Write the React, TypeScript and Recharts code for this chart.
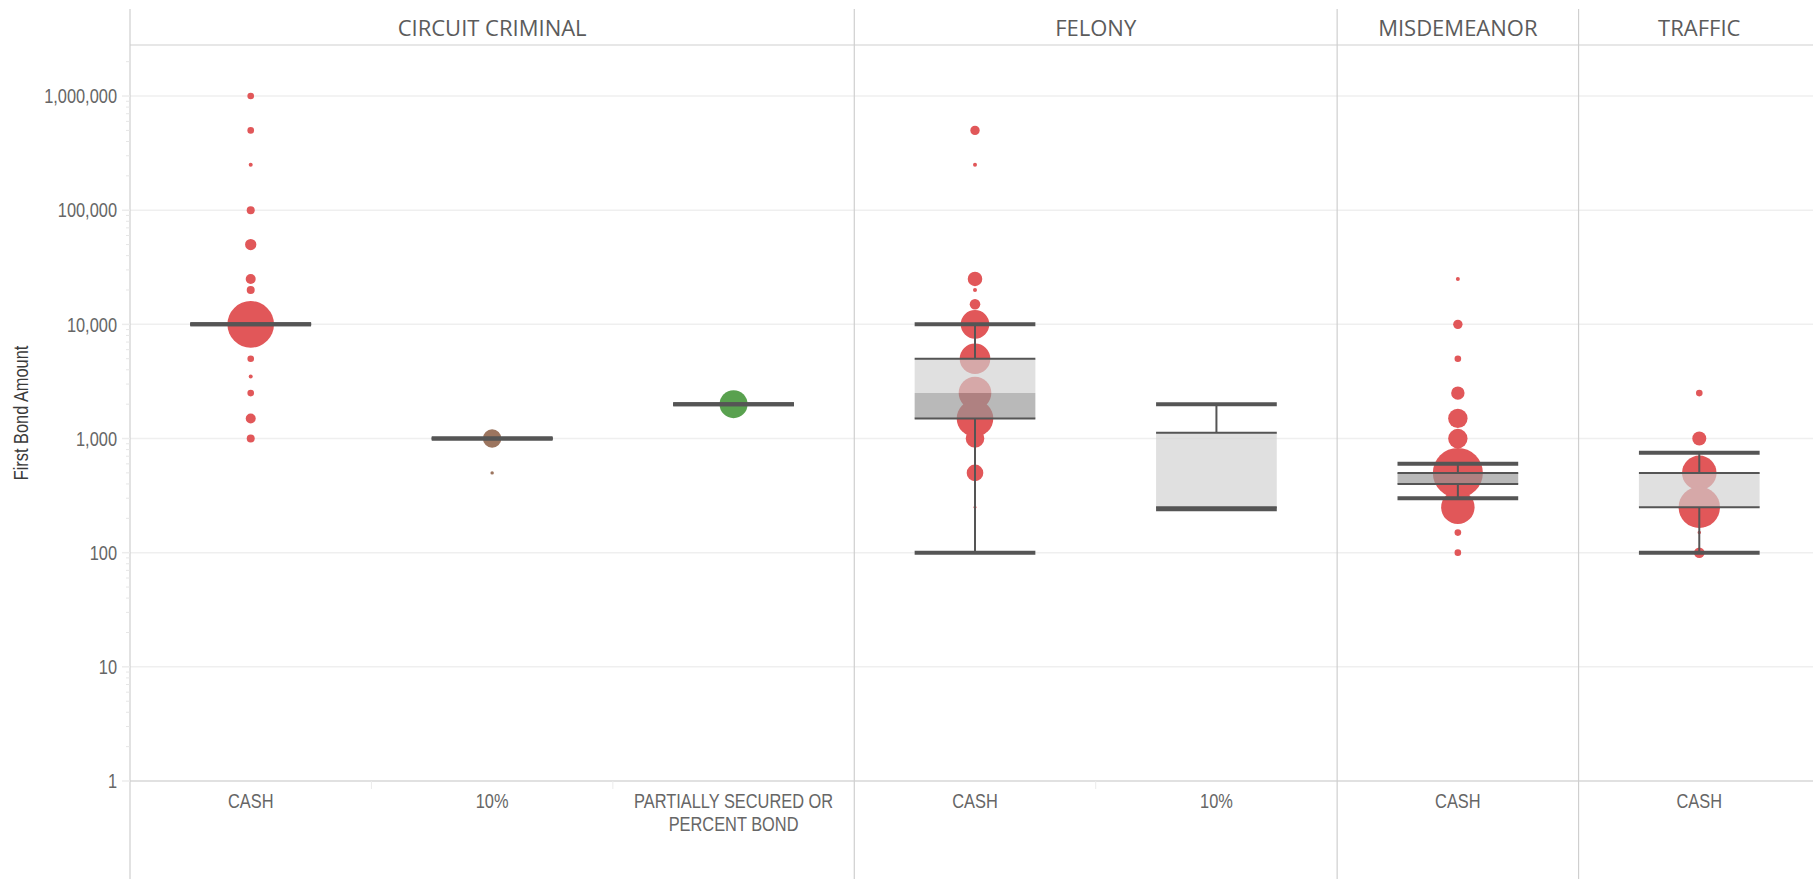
import React from 'react'
import {
  ComposedChart,
  Scatter,
  XAxis,
  YAxis,
  ZAxis,
  ReferenceLine,
  ReferenceArea,
} from 'recharts'

// facets across the top and the bond types inside them
const panelNames = ['CIRCUIT CRIMINAL', 'FELONY', 'MISDEMEANOR', 'TRAFFIC']
const panelSizes = [3, 2, 1, 1]

const categoryLabels = ['CASH', '10%', 'PARTIALLY SECURED OR\nPERCENT BOND', 'CASH', '10%', 'CASH', 'CASH']
const categoryTypes = ['cash', 'ten', 'partial', 'cash', 'ten', 'cash', 'cash']

// [first bond amount, number of cases]
const circuitCash = [
  [1000000, 11], [500000, 11], [250000, 4], [100000, 16], [50000, 32], [25000, 25], [20000, 16],
  [10000, 543], [5000, 11], [3500, 4], [2500, 11], [1500, 25], [1000, 16],
]
const circuitTen = [[1000, 85], [500, 3]]
const circuitPartial = [[2000, 196]]
const felonyCash = [
  [500000, 22], [250000, 4], [25000, 53], [20000, 4], [15000, 28], [10000, 204], [5000, 234],
  [2500, 266], [1500, 335], [1000, 86], [500, 69], [250, 2], [100, 1],
]
const felonyTen = [[240, 2]]
const misdemeanorCash = [
  [25000, 4], [10000, 22], [5000, 11], [2500, 45], [1500, 94], [1000, 94], [500, 625],
  [250, 279], [150, 11], [100, 11],
]
const trafficCash = [[2500, 11], [1000, 49], [500, 299], [250, 428], [150, 3], [100, 28]]

const pointsByCategory = [circuitCash, circuitTen, circuitPartial, felonyCash, felonyTen, misdemeanorCash, trafficCash]

// box plot statistics per category
const whiskerLow = [10000, 1000, 2000, 100, 240, 300, 100]
const quartile1 = [10000, 1000, 2000, 1500, 250, 400, 250]
const medians = [10000, 1000, 2000, 2500, 250, 500, 250]
const quartile3 = [10000, 1000, 2000, 5000, 1125, 500, 500]
const whiskerHigh = [10000, 1000, 2000, 10000, 2000, 600, 750]

const yMajorTicks = [1, 10, 100, 1000, 10000, 100000, 1000000]
const Y_MAX = 2800000

const typeColors: Record<string, string> = { cash: '#e15759', ten: '#9c755f', partial: '#59a14f' }

const FONT = "'Liberation Sans', Arial, sans-serif"
const BOX_HALF = 0.25

const panelEdges: number[] = []
const panelCenters: number[] = []
panelSizes.reduce((start, size) => {
  panelEdges.push(start)
  panelCenters.push(start + size / 2)
  return start + size
}, -0.5)

const yTicks: number[] = []
yMajorTicks.forEach((t) => {
  yTicks.push(t)
  for (let m = 2; m <= 9; m++) if (t * m < Y_MAX) yTicks.push(t * m)
})

const bottomTicks: number[] = []
for (let i = 0; i < categoryLabels.length; i++) bottomTicks.push(i - 0.5, i)

const topTicks = [...panelEdges, ...panelCenters].sort((a, b) => a - b)

const points = pointsByCategory.flatMap((pts, i) =>
  pts.map(([amount, count]) => ({ x: i, amount, count, type: categoryTypes[i] }))
)

// narrow sans (Arial Narrow look) made by squeezing Liberation Sans
function NarrowText({ x, y, anchor = 'middle', fill = '#666', size = 20, rotate = false, dy, children }: any) {
  return (
    <g transform={`translate(${x},${y})${rotate ? ' rotate(-90)' : ''} scale(0.82,1)`}>
      <text x={0} y={0} dy={dy} textAnchor={anchor} fill={fill} fontSize={size} fontFamily={FONT}>
        {children}
      </text>
    </g>
  )
}

function YTick(props: any) {
  const { x, y, payload } = props
  const v = payload.value
  if (yMajorTicks.includes(v)) {
    return (
      <g>
        <line x1={x - 8} x2={x} y1={y} y2={y} stroke="#ececec" strokeWidth={1.5} />
        <NarrowText x={x - 13} y={y} dy="0.36em" anchor="end">
          {v.toLocaleString('en-US')}
        </NarrowText>
      </g>
    )
  }
  return <line x1={x - 4} x2={x} y1={y} y2={y} stroke="#e6e6e6" strokeWidth={1} />
}

function BottomTick(props: any) {
  const { x, y, payload } = props
  const v = payload.value
  if (Number.isInteger(v)) {
    const lines = categoryLabels[v].split('\n')
    return (
      <g>
        {lines.map((l, k) => (
          <NarrowText key={k} x={x} y={y + 27 + k * 23}>
            {l}
          </NarrowText>
        ))}
      </g>
    )
  }
  if (panelEdges.includes(v)) {
    return <line x1={x} x2={x} y1={y} y2={y + 100} stroke="#cfcfcf" strokeWidth={1.2} />
  }
  return <line x1={x} x2={x} y1={y} y2={y + 8} stroke="#ebebeb" strokeWidth={1} />
}

function TopTick(props: any) {
  const { x, y, payload } = props
  const v = payload.value
  const p = panelCenters.indexOf(v)
  if (p >= 0) {
    return (
      <text x={x} y={y - 9} textAnchor="middle" fill="#5b5b5b" fontSize={22} fontFamily="'Open Sans', sans-serif">
        {panelNames[p]}
      </text>
    )
  }
  return <line x1={x} x2={x} y1={y} y2={y - 36} stroke="#cfcfcf" strokeWidth={1.2} />
}

function YTitle(props: any) {
  const vb = props.viewBox
  return (
    <NarrowText x={vb.x + 21} y={vb.y + vb.height / 2} dy="0.36em" rotate fill="#3a3a3a">
      First Bond Amount
    </NarrowText>
  )
}

function boxElements(i: number) {
  const lo = whiskerLow[i]
  const q1 = quartile1[i]
  const md = medians[i]
  const q3 = quartile3[i]
  const hi = whiskerHigh[i]
  const x1 = i - BOX_HALF
  const x2 = i + BOX_HALF
  const els: React.ReactElement[] = []
  if (q3 > md)
    els.push(
      <ReferenceArea key={`bu${i}`} x1={x1} x2={x2} y1={md} y2={q3} fill="#d0d0d0" fillOpacity={0.667} stroke="none" zIndex={700} />
    )
  if (md > q1)
    els.push(
      <ReferenceArea key={`bl${i}`} x1={x1} x2={x2} y1={q1} y2={md} fill="#969696" fillOpacity={0.667} stroke="none" zIndex={700} />
    )
  if (hi > q3)
    els.push(
      <ReferenceLine key={`wh${i}`} segment={[{ x: i, y: q3 }, { x: i, y: hi }]} stroke="#555" strokeWidth={2} zIndex={800} />
    )
  if (q1 > lo)
    els.push(
      <ReferenceLine key={`wl${i}`} segment={[{ x: i, y: lo }, { x: i, y: q1 }]} stroke="#555" strokeWidth={2} zIndex={800} />
    )
  ;[q1, q3].forEach((v, k) =>
    els.push(
      <ReferenceLine key={`e${k}${i}`} segment={[{ x: x1, y: v }, { x: x2, y: v }]} stroke="#555" strokeWidth={2} zIndex={800} />
    )
  )
  ;[lo, hi].forEach((v, k) =>
    els.push(
      <ReferenceLine key={`c${k}${i}`} segment={[{ x: x1, y: v }, { x: x2, y: v }]} stroke="#555" strokeWidth={4} zIndex={800} />
    )
  )
  return els
}

export default function App() {
  return (
    <div style={{ position: 'fixed', left: 0, top: 0, width: 1813, height: 879, overflow: 'hidden', background: '#fff' }}>
      <ComposedChart width={1820} height={879} margin={{ top: 9, right: 0, bottom: 0, left: 0 }}>
        {yMajorTicks.map((v) => (
          <ReferenceLine key={`g${v}`} y={v} stroke="#efefef" strokeWidth={1.5} zIndex={-100} />
        ))}
        {panelEdges.slice(1).map((e) => (
          <ReferenceLine key={`p${e}`} x={e} stroke="#cfcfcf" strokeWidth={1.2} zIndex={-50} />
        ))}
        <XAxis
          dataKey="x"
          type="number"
          domain={[-0.5, 6.5]}
          allowDataOverflow
          ticks={bottomTicks}
          interval={0}
          height={98}
          tick={<BottomTick />}
          tickLine={false}
          tickSize={0}
          tickMargin={0}
          axisLine={{ stroke: '#cfcfcf', strokeWidth: 1.2 }}
        />
        <XAxis
          xAxisId="top"
          orientation="top"
          dataKey="x"
          type="number"
          domain={[-0.5, 6.5]}
          allowDataOverflow
          ticks={topTicks}
          interval={0}
          height={36}
          tick={<TopTick />}
          tickLine={false}
          tickSize={0}
          tickMargin={0}
          axisLine={{ stroke: '#cfcfcf', strokeWidth: 1.2 }}
        />
        <YAxis
          dataKey="amount"
          type="number"
          scale="log"
          domain={[1, Y_MAX]}
          allowDataOverflow
          ticks={yTicks}
          interval={0}
          width={130}
          tick={<YTick />}
          tickLine={false}
          tickSize={0}
          tickMargin={0}
          axisLine={{ stroke: '#cfcfcf', strokeWidth: 1.2 }}
          label={{ content: (p: any) => <YTitle {...p} /> }}
        />
        <ZAxis dataKey="count" type="number" domain={[0, 1000]} range={[0, 1000 * Math.PI]} />
        {['cash', 'ten', 'partial'].map((t) => (
          <Scatter
            key={t}
            data={points.filter((p) => p.type === t)}
            fill={typeColors[t]}
            isAnimationActive={false}
          />
        ))}
        {categoryLabels.map((_, i) => boxElements(i))}
      </ComposedChart>
    </div>
  )
}
